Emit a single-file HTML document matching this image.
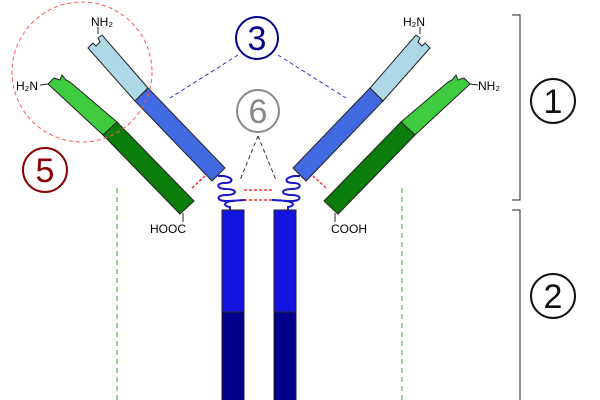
<!DOCTYPE html>
<html><head><style>body{margin:0;background:#fff}svg{display:block}text{font-family:"Liberation Sans",sans-serif}</style></head><body>
<svg width="600" height="400" viewBox="0 0 600 400" xmlns="http://www.w3.org/2000/svg">
<defs>
<g id="arm">
  <polygon points="88,48 93,43 96,46 100,42 98,38 102,35 148,88 135,101" fill="#add8e6" stroke="#222" stroke-width="1"/>
  <polygon points="135,101 148,88 225,168 212,181" fill="#4169e1" stroke="#222" stroke-width="1"/>
  <polygon points="48,84 54,78 60,80 62,75 66,80 70,82 117,122 103,135" fill="#3ecb3e" stroke="#222" stroke-width="1"/>
  <polygon points="103,135 117,122 194,201 180,214" fill="#0a7d0a" stroke="#222" stroke-width="1"/>
  <line x1="98" y1="34" x2="98" y2="27" stroke="#222"/>
  <line x1="40" y1="85" x2="48" y2="84" stroke="#222"/>
  <line x1="183" y1="213" x2="183" y2="222" stroke="#222"/>
  <path d="M218,176 l6,0 c10,2 10,7 0,7 c-8,0 -8,6 2,6 c12,0 12,6 0,6 c-10,0 -10,6 0,6 c10,0 14,-1 20,-1 M234,201 c-10,0 -12,5 -4,6 v3" fill="none" stroke="#1a1acc" stroke-width="2"/>
  <line x1="192" y1="188" x2="205" y2="176" stroke="#f33" stroke-width="1.5" stroke-dasharray="3,2"/>
  <rect x="222" y="210" width="22" height="102" fill="#1414e0" stroke="#222" stroke-width="1"/>
  <rect x="222" y="312" width="22" height="90" fill="#00008b" stroke="#222" stroke-width="1"/>
</g>
</defs>
<use href="#arm"/>
<use href="#arm" transform="translate(518,0) scale(-1,1)"/>
<line x1="244" y1="190" x2="274" y2="190" stroke="#f33" stroke-width="1.5" stroke-dasharray="3,2"/>
<line x1="244" y1="200" x2="274" y2="200" stroke="#f33" stroke-width="1.5" stroke-dasharray="3,2"/>
<text x="91" y="26" font-size="12">NH₂</text>
<text x="16" y="90" font-size="12">H₂N</text>
<text x="150" y="233" font-size="12">HOOC</text>
<text x="403" y="26" font-size="12">H₂N</text>
<text x="478" y="90" font-size="12">NH₂</text>
<text x="331" y="233" font-size="12">COOH</text>
<circle cx="82" cy="72" r="70" fill="none" stroke="#f55" stroke-dasharray="4,3"/>
<line x1="238" y1="55" x2="170" y2="98" stroke="#33c" stroke-dasharray="4,3"/>
<line x1="278" y1="55" x2="346" y2="98" stroke="#33c" stroke-dasharray="4,3"/>
<line x1="258" y1="136" x2="240" y2="180" stroke="#333" stroke-dasharray="4,3"/>
<line x1="258" y1="136" x2="276" y2="180" stroke="#333" stroke-dasharray="4,3"/>
<line x1="117" y1="188" x2="117" y2="400" stroke="#3a3" stroke-dasharray="5,4"/>
<line x1="402" y1="188" x2="402" y2="400" stroke="#3a3" stroke-dasharray="5,4"/>
<g font-size="34" text-anchor="middle">
<circle cx="257" cy="38" r="21" fill="#fff" stroke="#00008b" stroke-width="2"/><text x="257" y="50" fill="#00008b">3</text>
<circle cx="258" cy="111" r="21" fill="#fff" stroke="#888" stroke-width="2"/><text x="258" y="123" fill="#888">6</text>
<circle cx="45" cy="170" r="22" fill="#fff" stroke="#8b0000" stroke-width="2"/><text x="45" y="182" fill="#8b0000">5</text>
<circle cx="553" cy="101" r="22" fill="#fff" stroke="#111" stroke-width="2"/><text x="553" y="113" fill="#111">1</text>
<circle cx="553" cy="296" r="22" fill="#fff" stroke="#111" stroke-width="2"/><text x="553" y="308" fill="#111">2</text>
</g>
<path d="M512,15 H520 V200 H512 M512,210 H520 V400" fill="none" stroke="#222"/>
</svg>
</body></html>
